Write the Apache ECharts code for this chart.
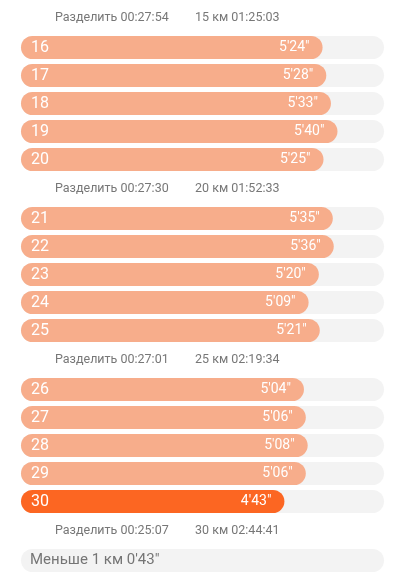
<!DOCTYPE html>
<html>
<head>
<meta charset="utf-8">
<script src="https://cdn.jsdelivr.net/npm/echarts@6/dist/echarts.min.js"></script>
<style>
html,body{margin:0;padding:0;background:#fff;}
#c{width:400px;height:581px;}
</style>
</head>
<body>
<div id="c"></div>
<script>
// Data
const kmLabels = ['16','17','18','19','20','21','22','23','24','25','26','27','28','29','30'];
const paceSeconds = [324,328,333,340,325, 335,336,320,309,321, 304,306,308,306,283];
const highlightKm = '30';
const splitTimes = ['00:27:54','00:27:30','00:27:01','00:25:07'];
const splitKm = ['15','20','25','30'];
const totalTimes = ['01:25:03','01:52:33','02:19:34','02:44:41'];
const lastLabel = 'Меньше 1 км';
const lastPace = "0'43\"";
const groupSize = 5;

function fmtPace(s){ const m=Math.floor(s/60), r=s%60; return m+"'"+(r<10?'0':'')+r+'"'; }

const FONT = 'Roboto, "Noto Sans", sans-serif';
const grids=[], xAxes=[], yAxes=[], series=[], graphics=[];
const groupCount = splitTimes.length;
const MAXV = 390;

for(let g=0; g<groupCount; g++){
  const top = 33.5 + 171*g;
  grids.push({left:21, right:16, top:top, height:140});
  xAxes.push({type:'value', gridIndex:g, min:0, max:MAXV, show:false});
  const cats = kmLabels.slice(g*groupSize, (g+1)*groupSize);
  yAxes.push({type:'category', gridIndex:g, inverse:true, data:cats, z:10,
    axisLine:{show:false}, axisTick:{show:false}, splitLine:{show:false},
    axisLabel:{inside:true, margin:10, color:'#ffffff', fontSize:16, fontFamily:FONT}});
  const vals = paceSeconds.slice(g*groupSize, (g+1)*groupSize).map((v,i)=>({
    value:v,
    itemStyle:{color: cats[i]===highlightKm ? '#FC6622' : '#F7AD8B'}
  }));
  series.push({type:'bar', xAxisIndex:g, yAxisIndex:g, data:vals, barWidth:23,
    showBackground:true, backgroundStyle:{color:'#F3F3F3', borderRadius:11.5},
    itemStyle:{borderRadius:11.5},
    label:{show:true, position:'insideRight', distance:13, color:'#ffffff', fontSize:14, fontFamily:FONT,
      formatter:p=>fmtPace(p.value)}});
  graphics.push({type:'text', x:55, y:17.5+171*g, style:{text:'Разделить '+splitTimes[g], fill:'#777777', font:'12.5px '+FONT, verticalAlign:'middle'}});
  graphics.push({type:'text', x:195, y:17.5+171*g, style:{text:splitKm[g]+' км '+totalTimes[g], fill:'#777777', font:'12.5px '+FONT, verticalAlign:'middle'}});
}
// last partial km row
const li = groupCount;
grids.push({left:21, right:16, top:546.5, height:28});
xAxes.push({type:'value', gridIndex:li, min:0, max:MAXV, show:false});
yAxes.push({type:'category', gridIndex:li, inverse:true, data:[lastLabel+' '+lastPace], z:10,
  axisLine:{show:false}, axisTick:{show:false}, splitLine:{show:false},
  axisLabel:{inside:true, margin:9, color:'#757575', fontSize:15, fontFamily:FONT}});
series.push({type:'bar', xAxisIndex:li, yAxisIndex:li, data:[0], barWidth:23,
  showBackground:true, backgroundStyle:{color:'#F3F3F3', borderRadius:11.5}});

const chart = echarts.init(document.getElementById('c'), null, {renderer:'canvas'});
chart.setOption({
  animation:false,
  backgroundColor:'#ffffff',
  grid:grids, xAxis:xAxes, yAxis:yAxes, series:series,
  graphic:graphics
});
</script>
</body>
</html>
